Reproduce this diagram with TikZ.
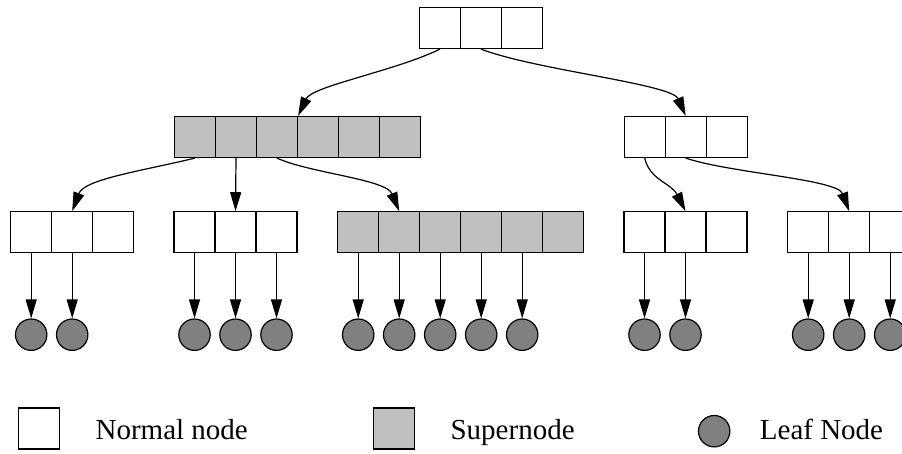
\documentclass[tikz,border=0pt]{standalone}
\usepackage{fontspec}
\setmainfont{Liberation Serif}
\usetikzlibrary{arrows.meta}

\definecolor{supergray}{HTML}{C0C0C0}
\definecolor{leafgray}{HTML}{808080}

\begin{document}
\begin{tikzpicture}
		[x=1pt,y=-1pt,line width=1.2pt,
		cell/.style={shape=rectangle,draw,inner sep=0pt,minimum width=41pt,minimum height=41pt},
		supercell/.style={cell,fill=supergray},
		leaf/.style={shape=circle,draw,fill=leafgray,inner sep=0pt,minimum size=31.4pt},
		ptr/.style={-{Triangle[length=19pt,width=11pt]}},
		legendtext/.style={anchor=base west,inner sep=0pt,font=\fontsize{29}{34}\selectfont}]
		\useasboundingbox (0,0) rectangle (902,453);
		\clip (0,0) rectangle (902,453);
		% root and second level
		\foreach \i in {1,2,3}
		{
			\node[cell] (r\i) at (399+41*\i,28) {};
			\node[cell] (n\i) at (603.7+41*\i,137) {};
		}
		\foreach \i in {1,...,6}
			\node[supercell] (s\i) at (154+41*\i,137) {};
		% third level
		\foreach \n/\x in {a/-9.8, b/153.5, d/603.5, e/767.2}
			\foreach \i in {1,2,3}
				\node[cell] (\n\i) at (\x+41*\i,232.3) {};
		\foreach \i in {1,...,6}
			\node[supercell] (c\i) at (317.2+41*\i,232.3) {};
		% leaves
		\foreach \n/\x/\k in {a/-9.8/2, b/153.5/3, c/317.2/5, d/603.5/2, e/767.2/3}
			\foreach \i in {1,...,\k}
			{
				\node[leaf] (l\n\i) at (\x+41*\i,334.7) {};
				\draw[ptr] (\n\i.south) -- (l\n\i.north);
			}
		\draw[ptr] (r1.south) .. controls +(-45,22) and +(14,-30) .. (s3.north east);
		\draw[ptr] (r2.south) .. controls +(55,21) and +(-14,-32) .. (n2.north);
		\draw[ptr] (s1.south) .. controls +(-54,13) and +(12,-32) .. (a2.north);
		\draw[ptr] (s2.south) -- (b2.north);
		\draw[ptr] (s3.south) .. controls +(33,15) and +(-13,-32) .. (c2.north);
		\draw[ptr] (n1.south) .. controls +(5,22) and +(-14,-28) .. (d2.north);
		\draw[ptr] (n2.south) .. controls +(45,15) and +(-12,-32) .. (e2.north);
		% legend
		\node[cell] (normal) at (39,428.5) {};
		\node[supercell] (super) at (394,428.5) {};
		\node[leaf] (leafkey) at (714.2,431.2) {};
		\node[legendtext] (normaltext) at (95,439.3) {Normal node};
		\node[legendtext] (supertext) at (450,439.3) {Supernode};
		\node[legendtext] (leaftext) at (759.3,439.3) {Leaf Node};
\end{tikzpicture}
\end{document}
